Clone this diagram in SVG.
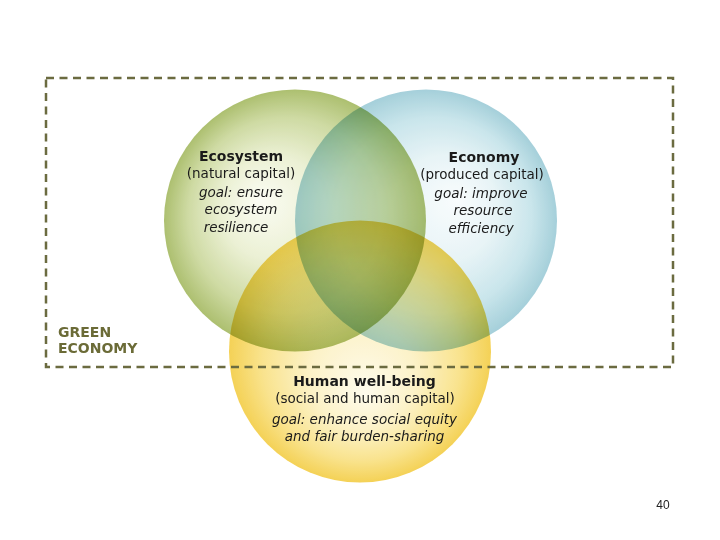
<svg xmlns="http://www.w3.org/2000/svg" width="720" height="540" viewBox="0 0 720 540">
  <defs>
    <radialGradient id="gEco" cx="0.5" cy="0.5" r="0.5" fx="0.36" fy="0.42">
      <stop offset="0" stop-color="#fbfcf2"/>
      <stop offset="0.4" stop-color="#e8eecd"/>
      <stop offset="0.75" stop-color="#c6d493"/>
      <stop offset="1" stop-color="#9fb558"/>
    </radialGradient>
    <radialGradient id="gEcon" cx="0.5" cy="0.5" r="0.5" fx="0.62" fy="0.42">
      <stop offset="0" stop-color="#f8fcfd"/>
      <stop offset="0.4" stop-color="#e4f2f5"/>
      <stop offset="0.75" stop-color="#c0e1e8"/>
      <stop offset="1" stop-color="#96c8d4"/>
    </radialGradient>
    <radialGradient id="gHum" cx="0.5" cy="0.5" r="0.5" fx="0.52" fy="0.66">
      <stop offset="0" stop-color="#fefbea"/>
      <stop offset="0.4" stop-color="#fcf0bf"/>
      <stop offset="0.75" stop-color="#f8df7c"/>
      <stop offset="1" stop-color="#f3ca3a"/>
    </radialGradient>
  </defs>
  <style>
    .circ { mix-blend-mode: multiply; opacity: 0.86; }
    text { font-family: "DejaVu Sans", Verdana, sans-serif; fill: #1a1a1a; text-anchor: middle; }
    .t { font-weight: bold; font-size: 14px; }
    .s { font-size: 13.5px; }
    .g { font-size: 13.5px; font-style: italic; }
    .ge { font-weight: bold; font-size: 14px; fill: #6b6b37; text-anchor: start; }
    .frame { fill: none; stroke: #6b6b40; stroke-width: 2.5; stroke-dasharray: 8 5.5; }
    .pn { font-family: "Liberation Sans", Arial, sans-serif; font-size: 12px; fill: #222; }
  </style>
  <rect width="720" height="540" fill="#ffffff"/>
  <g id="circles">
    <circle id="ecosystem-circle" class="circ" cx="295" cy="220.5" r="131" fill="url(#gEco)"/>
    <circle id="economy-circle" class="circ" cx="426" cy="220.5" r="131" fill="url(#gEcon)"/>
    <circle id="human-circle" class="circ" cx="360" cy="351.5" r="131" fill="url(#gHum)"/>
  </g>
  <g id="green-economy">
    <rect class="frame" x="46" y="78" width="627" height="289"/>
    <text class="ge" x="58" y="337">GREEN</text>
    <text class="ge" x="58" y="353">ECONOMY</text>
  </g>
  <g id="ecosystem">
    <text class="t" x="241" y="161">Ecosystem</text>
    <text class="s" x="241" y="178">(natural capital)</text>
    <text class="g" x="241" y="197">goal: ensure</text>
    <text class="g" x="241" y="214">ecosystem</text>
    <text class="g" x="236" y="232">resilience</text>
  </g>
  <g id="economy">
    <text class="t" x="484" y="162">Economy</text>
    <text class="s" x="482" y="179">(produced capital)</text>
    <text class="g" x="481" y="198">goal: improve</text>
    <text class="g" x="483" y="215">resource</text>
    <text class="g" x="481" y="233">efficiency</text>
  </g>
  <g id="human-well-being">
    <text class="t" x="364.5" y="386">Human well-being</text>
    <text class="s" x="365" y="403">(social and human capital)</text>
    <text class="g" x="364.5" y="424">goal: enhance social equity</text>
    <text class="g" x="364.5" y="441">and fair burden-sharing</text>
  </g>
  <text class="pn" x="663" y="509">40</text>
</svg>
